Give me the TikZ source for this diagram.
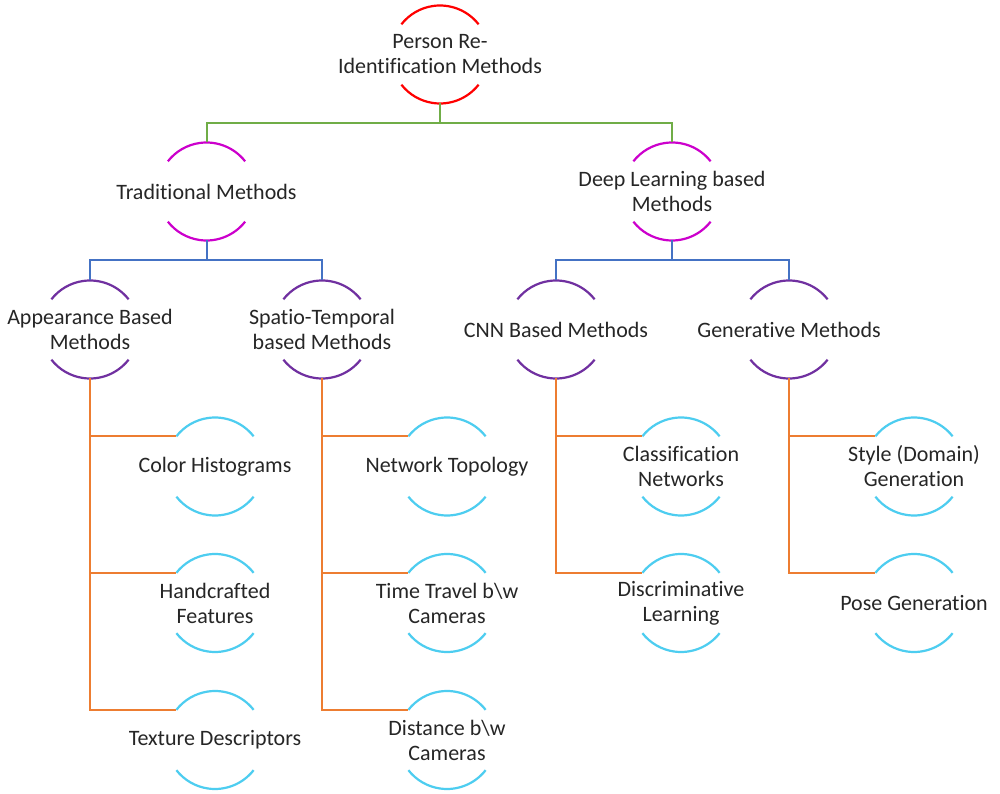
\documentclass[tikz,border=0pt]{standalone}
\usepackage{fontspec}
\setmainfont{Carlito}[Ligatures=NoCommon]
\begin{document}
\begin{tikzpicture}[x=1pt,y=1pt,
  ring/.style={circle, minimum size=98pt, inner sep=0pt, outer sep=0pt},
  txt/.style={align=center, inner sep=0pt, text=black!85, font=\fontsize{22}{25}\selectfont},
  link/.style={line width=2pt},
  arcline/.style={line width=2.2pt}]
\definecolor{linkgreen}{RGB}{112,173,71}
\definecolor{linkblue}{RGB}{68,114,196}
\definecolor{linkorange}{RGB}{237,125,49}
\definecolor{arcred}{RGB}{255,0,0}
\definecolor{arcmag}{RGB}{204,0,204}
\definecolor{arcpurple}{RGB}{112,48,160}
\definecolor{arccyan}{RGB}{77,205,240}
\useasboundingbox[fill=white] (0,0) rectangle (1000,793);

% ring node: two arcs (top and bottom) around a centred label
\newcommand\ringnode[5]{%
  \node[ring] (#1) at (#2,#3) {};
  \node[txt] (#1-t) at (#1) {#5};
  \draw[#4, arcline] (#1.38) arc[start angle=38, end angle=142, radius=49pt];
  \draw[#4, arcline] (#1.-38) arc[start angle=-38, end angle=-142, radius=49pt];
}

% level 0
\ringnode{root}{440}{738.5}{arcred}{Person Re-\\Identification Methods}
% level 1
\ringnode{trad}{206.5}{601.5}{arcmag}{Traditional Methods}
\ringnode{deep}{672}{601.5}{arcmag}{Deep Learning based\\Methods}
% level 2
\ringnode{app}{90}{463.5}{arcpurple}{Appearance Based\\Methods}
\ringnode{spt}{322}{463.5}{arcpurple}{Spatio-Temporal\\based Methods}
\ringnode{cnn}{556}{463.5}{arcpurple}{CNN Based Methods}
\ringnode{gen}{789}{463.5}{arcpurple}{Generative Methods}
% leaves
\ringnode{colh}{215}{326.5}{arccyan}{Color Histograms}
\ringnode{hand}{215}{190}{arccyan}{Handcrafted\\Features}
\ringnode{text}{215}{53}{arccyan}{Texture Descriptors}
\ringnode{ntop}{447}{326.5}{arccyan}{Network Topology}
\ringnode{ttrv}{447}{190}{arccyan}{Time Travel b\textbackslash w\\Cameras}
\ringnode{dist}{447}{53}{arccyan}{Distance b\textbackslash w\\Cameras}
\ringnode{clsn}{681}{326.5}{arccyan}{Classification\\Networks}
\ringnode{disc}{681}{190}{arccyan}{Discriminative\\Learning}
\ringnode{styl}{914}{326.5}{arccyan}{Style (Domain)\\Generation}
\ringnode{pose}{914}{190}{arccyan}{Pose Generation}

% connectors
\draw[link, linkgreen] (root.south) -- ++(0,-20) coordinate (j0) -| (trad.north);
\draw[link, linkgreen] (j0) -| (deep.north);
\draw[link, linkblue] (trad.south) -- ++(0,-20) coordinate (j1) -| (app.north);
\draw[link, linkblue] (j1) -| (spt.north);
\draw[link, linkblue] (deep.south) -- ++(0,-20) coordinate (j2) -| (cnn.north);
\draw[link, linkblue] (j2) -| (gen.north);

\draw[link, linkorange] (app.south) |- (colh.142) (app.south) |- (hand.142) (app.south) |- (text.142);
\draw[link, linkorange] (spt.south) |- (ntop.142) (spt.south) |- (ttrv.142) (spt.south) |- (dist.142);
\draw[link, linkorange] (cnn.south) |- (clsn.142) (cnn.south) |- (disc.142);
\draw[link, linkorange] (gen.south) |- (styl.142) (gen.south) |- (pose.142);
\end{tikzpicture}
\end{document}
